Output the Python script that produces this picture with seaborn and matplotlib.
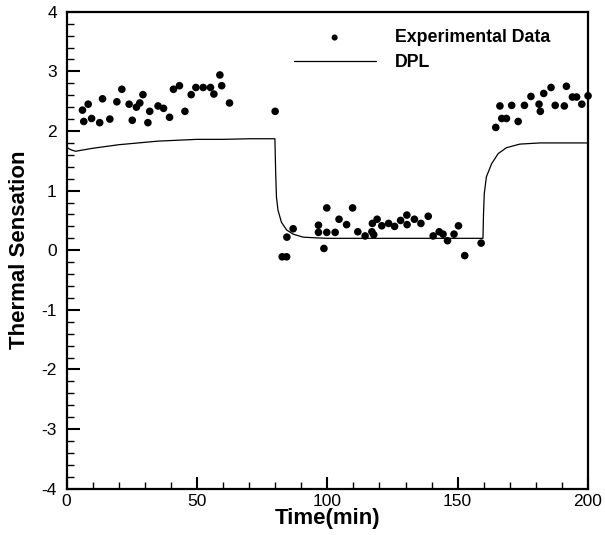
import matplotlib
matplotlib.use("Agg")
import matplotlib.pyplot as plt
from matplotlib.ticker import MultipleLocator
import seaborn as sns
import pandas as pd

# experimental points
exp_time = [6.1, 6.6, 8.3, 9.6, 12.7, 13.8, 16.6, 19.3, 21.2, 24.0,
            25.2, 26.8, 28.1, 29.3, 31.2, 31.9, 35.1, 37.2, 39.5, 41.0,
            43.3, 45.4, 47.8, 49.6, 52.4, 55.2, 56.5, 58.8, 59.5, 62.5,
            80.0, 82.7, 84.4, 84.5, 86.9, 96.6, 96.6, 98.7, 99.8, 99.8,
            103.0, 104.5, 107.4, 109.7, 111.7, 114.5, 117.1, 117.3, 117.8, 119.1,
            120.9, 123.5, 125.8, 128.1, 130.5, 130.6, 133.4, 135.9, 138.7, 140.6,
            142.9, 144.4, 146.1, 148.6, 150.3, 152.7, 159.0,
            164.6, 166.2, 166.9, 168.7, 170.7, 173.2, 175.6, 178.1, 181.2, 181.7,
            183.0, 185.8, 187.4, 190.9, 191.7, 194.0, 195.6, 197.6, 200.0]
exp_ts = [2.35, 2.16, 2.45, 2.21, 2.14, 2.54, 2.20, 2.49, 2.70, 2.45,
          2.18, 2.40, 2.47, 2.61, 2.14, 2.33, 2.42, 2.38, 2.23, 2.70,
          2.76, 2.33, 2.61, 2.73, 2.73, 2.73, 2.62, 2.94, 2.76, 2.47,
          2.33, -0.11, -0.11, 0.22, 0.36, 0.42, 0.30, 0.03, 0.30, 0.71,
          0.30, 0.52, 0.43, 0.71, 0.31, 0.24, 0.31, 0.45, 0.26, 0.52,
          0.41, 0.45, 0.40, 0.50, 0.59, 0.43, 0.52, 0.45, 0.57, 0.24,
          0.31, 0.27, 0.16, 0.27, 0.41, -0.09, 0.12,
          2.06, 2.42, 2.21, 2.21, 2.43, 2.16, 2.43, 2.58, 2.45, 2.33,
          2.63, 2.73, 2.43, 2.42, 2.75, 2.57, 2.57, 2.45, 2.59]

# DPL model curve
dpl_time = [0, 1, 2, 3.5, 6, 10, 15, 20, 25, 30, 35, 40, 45, 50, 60, 70,
            79.9, 80.2, 80.5, 81.1, 82.4, 84.4, 86.9, 90.7, 94.6, 100, 120, 140,
            159.7, 159.9, 160.2, 161.0, 163.0, 165.5, 168.7, 173.8, 181.5, 190, 200]
dpl_ts = [1.73, 1.70, 1.68, 1.66, 1.68, 1.71, 1.74, 1.77, 1.79, 1.81, 1.83, 1.84, 1.85, 1.86, 1.86, 1.87,
          1.87, 1.30, 0.89, 0.67, 0.47, 0.34, 0.27, 0.22, 0.21, 0.20, 0.20, 0.20,
          0.20, 0.60, 0.95, 1.23, 1.45, 1.62, 1.72, 1.78, 1.80, 1.80, 1.80]

exp = pd.DataFrame({"t": exp_time, "ts": exp_ts})
dpl = pd.DataFrame({"t": dpl_time, "ts": dpl_ts})

sns.set_style("ticks")
plt.rcParams['font.family'] = ['Liberation Sans', 'DejaVu Sans']
plt.rcParams['axes.unicode_minus'] = False
plt.rcParams['text.color'] = 'black'
plt.rcParams['axes.labelcolor'] = 'black'
plt.rcParams['xtick.color'] = 'black'
plt.rcParams['ytick.color'] = 'black'
plt.rcParams['axes.edgecolor'] = 'black'

fig = plt.figure(figsize=(6.05, 5.35), dpi=100)
ax = fig.add_axes([0.110, 0.0865, 0.862, 0.8915])

sns.lineplot(data=dpl, x="t", y="ts", ax=ax, color="black", linewidth=0.9,
             sort=False, estimator=None, label="DPL")
sns.scatterplot(data=exp, x="t", y="ts", ax=ax, color="black", marker="o",
                s=30, edgecolor="none", clip_on=False, label="Experimental Data")

ax.set_xlim(0, 200)
ax.set_ylim(-4, 4)
ax.xaxis.set_major_locator(MultipleLocator(50))
ax.xaxis.set_minor_locator(MultipleLocator(10))
ax.yaxis.set_major_locator(MultipleLocator(1))
ax.yaxis.set_minor_locator(MultipleLocator(0.2))
ax.tick_params(which="major", direction="in", length=9, width=1.5, labelsize=12.5)
ax.tick_params(axis="y", which="major", pad=7)
ax.tick_params(axis="x", which="major", pad=4)
ax.tick_params(which="minor", direction="in", length=5, width=1.0)
for s in ax.spines.values():
    s.set_linewidth(1.6)

ax.set_xlabel("Time(min)", fontsize=16, fontweight="bold", labelpad=-1)
ax.set_ylabel("Thermal Sensation", fontsize=16, fontweight="bold", labelpad=8)

h, l = ax.get_legend_handles_labels()
ax.legend(h[::-1], l[::-1], loc="upper left", bbox_to_anchor=(0.405, 0.997),
          frameon=False, prop={"weight": "bold", "size": 12.8},
          handlelength=4.6, handletextpad=1.1, labelspacing=0.45, markerscale=0.8)

fig.savefig("out.png", dpi=100)
